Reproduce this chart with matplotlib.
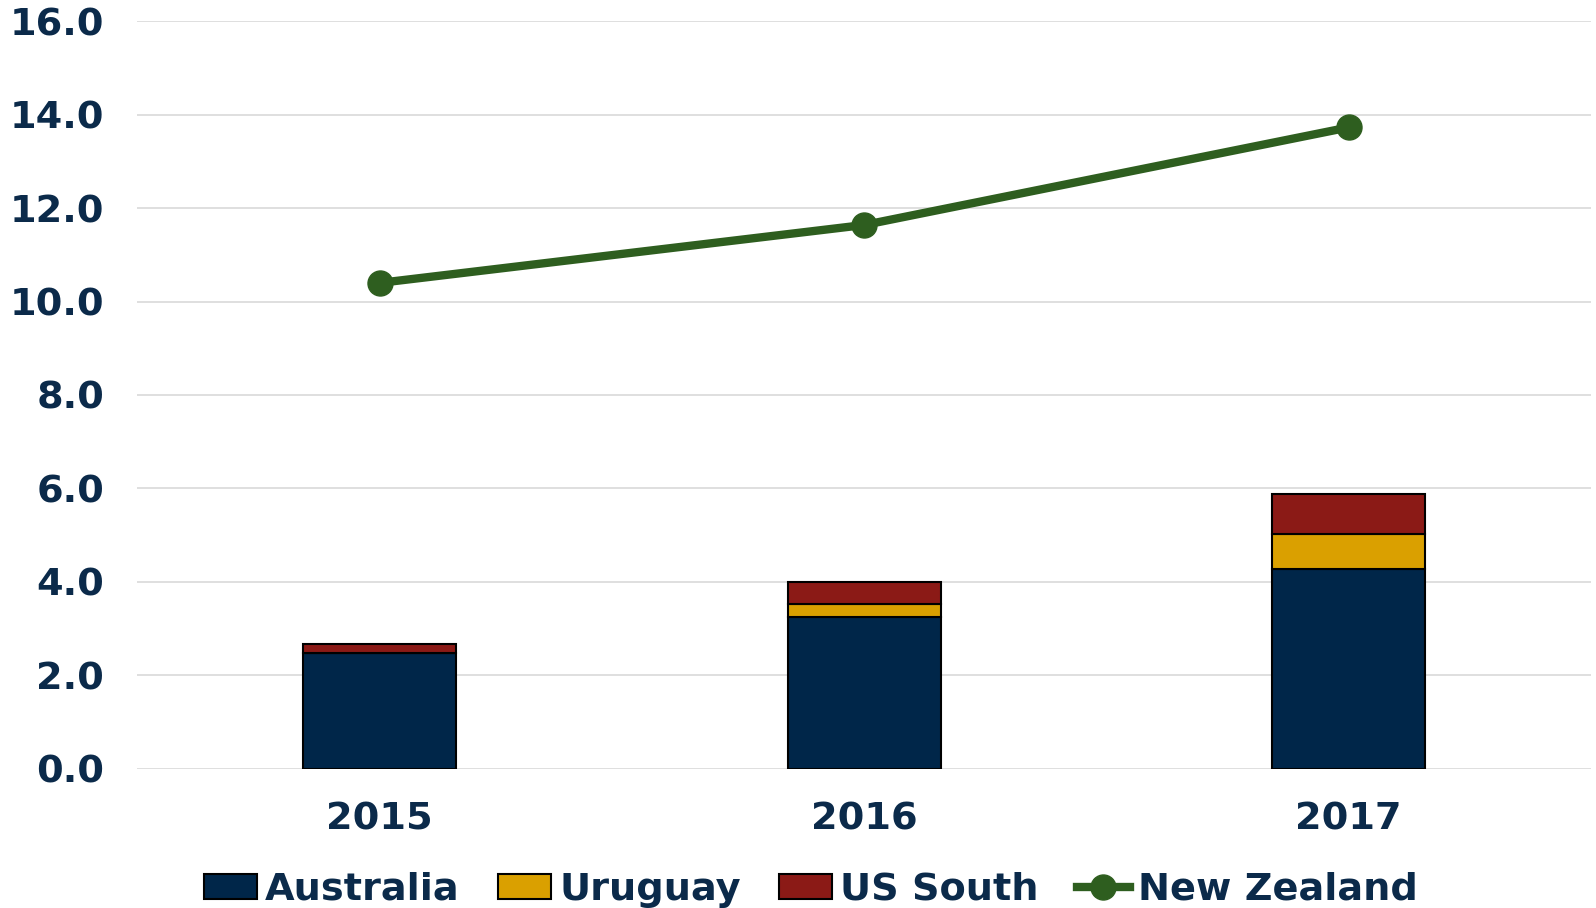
import numpy as np
import matplotlib
matplotlib.use("Agg")
import matplotlib.pyplot as plt
from matplotlib.patches import Patch
from matplotlib.lines import Line2D

# values
YEARS = ["2015", "2016", "2017"]
AUSTRALIA = [2.47, 3.25, 4.27]
URUGUAY = [0.0, 0.27, 0.75]
US_SOUTH = [0.20, 0.48, 0.85]
NEW_ZEALAND = [10.40, 11.64, 13.73]

NAVY = "#002649"
GOLD = "#DAA000"
RED = "#8B1A16"
GREEN = "#2E5E1F"
TEXT = "#0B2A4A"

plt.rcParams["font.family"] = ["DejaVu Sans"]
plt.rcParams["font.weight"] = "bold"

fig = plt.figure(figsize=(15.96, 9.08), dpi=100)
ax = fig.add_axes([137.4 / 1596, 1 - 768.5 / 908, (1591 - 137.4) / 1596, (768.5 - 21.4) / 908])

x = np.arange(len(YEARS))
width = 0.315
aus = np.array(AUSTRALIA)
uru = np.array(URUGUAY)
uss = np.array(US_SOUTH)

bar_kw = dict(width=width, edgecolor="black", linewidth=1.5, zorder=3)
ax.bar(x, aus, color=NAVY, **bar_kw)
ax.bar(x, uru, bottom=aus, color=GOLD, **bar_kw)
ax.bar(x, uss, bottom=aus + uru, color=RED, **bar_kw)
ax.plot(x, NEW_ZEALAND, color=GREEN, linewidth=6, marker="o", markersize=18, zorder=4)

ax.set_xlim(-0.5, len(YEARS) - 0.5)
ax.set_ylim(0, 16)
ax.set_yticks(np.arange(0, 16.1, 2))
ax.set_yticklabels([f"{v:.1f}" for v in np.arange(0, 16.1, 2)])
ax.set_xticks(x)
ax.set_xticklabels(YEARS)
ax.tick_params(axis="both", length=0, labelsize=27.5, labelcolor=TEXT)
ax.tick_params(axis="y", pad=24)
ax.tick_params(axis="x", pad=24)
for lab in ax.get_xticklabels() + ax.get_yticklabels():
    lab.set_fontweight("bold")

ax.grid(axis="y", color="#D9D9D9", linewidth=1.2, zorder=0)
ax.set_axisbelow(True)
for s in ax.spines.values():
    s.set_visible(False)

handles = [
    Patch(facecolor=NAVY, edgecolor="black", linewidth=1.5),
    Patch(facecolor=GOLD, edgecolor="black", linewidth=1.5),
    Patch(facecolor=RED, edgecolor="black", linewidth=1.5),
    Line2D([0], [0], color=GREEN, linewidth=6, marker="o", markersize=18),
]
labels = ["Australia", "Uruguay", "US South", "New Zealand"]
leg = fig.legend(handles, labels, loc="center", bbox_to_anchor=(0.508, 1 - 890 / 908),
                 ncol=4, frameon=False, fontsize=27.5, handlelength=1.4, handleheight=0.6,
                 handletextpad=0.2, columnspacing=1.0)
for t in leg.get_texts():
    t.set_color(TEXT)
    t.set_fontweight("bold")

fig.savefig("out.png", dpi=100)
